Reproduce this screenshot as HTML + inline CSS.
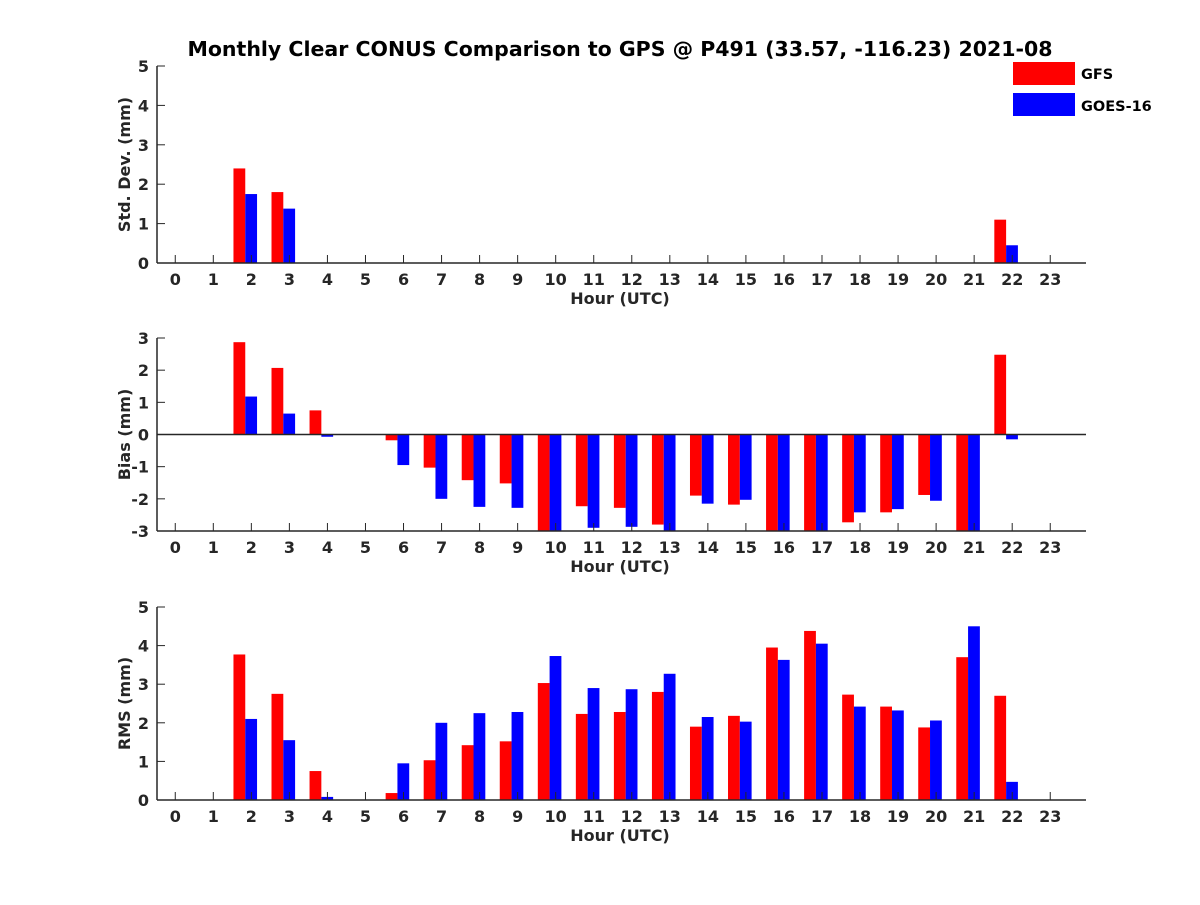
<!DOCTYPE html>
<html><head><meta charset="utf-8"><style>
body{margin:0;background:#fff}
svg text{font-family:"DejaVu Sans","Liberation Sans",sans-serif;font-weight:bold;fill:#262626}
</style></head><body>
<svg id="chart" width="1200" height="900" xmlns="http://www.w3.org/2000/svg">
<rect width="1200" height="900" fill="#fff"/>
<text x="620" y="56" font-size="20.5" text-anchor="middle" style="fill:#000">Monthly Clear CONUS Comparison to GPS @ P491 (33.57, -116.23) 2021-08</text>
<g>
<rect x="1013" y="62" width="62" height="23" fill="#ff0000"/>
<text x="1081" y="79" font-size="14.5" style="fill:#000">GFS</text>
<rect x="1013" y="93" width="62" height="23" fill="#0000ff"/>
<text x="1081" y="111" font-size="14.5" style="fill:#000">GOES-16</text>
</g>
</svg>
<script>
const hours=[0,1,2,3,4,5,6,7,8,9,10,11,12,13,14,15,16,17,18,19,20,21,22,23];
const stdGFS=[null,null,2.4,1.8,null,null,null,null,null,null,null,null,null,null,null,null,null,null,null,null,null,null,1.1,null];
const stdGOES=[null,null,1.75,1.38,null,null,null,null,null,null,null,null,null,null,null,null,null,null,null,null,null,null,0.45,null];
const biasGFS=[null,null,2.87,2.07,0.75,null,-0.18,-1.03,-1.42,-1.52,-3.05,-2.23,-2.28,-2.8,-1.9,-2.18,-3.95,-4.4,-2.73,-2.42,-1.88,-3.7,2.48,null];
const biasGOES=[null,null,1.18,0.65,-0.07,null,-0.95,-2.0,-2.25,-2.28,-3.73,-2.9,-2.87,-3.27,-2.15,-2.03,-3.63,-4.05,-2.42,-2.32,-2.06,-4.5,-0.15,null];
const rmsGFS=[null,null,3.77,2.75,0.75,null,0.18,1.03,1.42,1.52,3.03,2.23,2.28,2.8,1.9,2.18,3.95,4.38,2.73,2.42,1.88,3.7,2.7,null];
const rmsGOES=[null,null,2.1,1.55,0.08,null,0.95,2.0,2.25,2.28,3.73,2.9,2.87,3.27,2.15,2.03,3.63,4.05,2.42,2.32,2.06,4.5,0.47,null];
const stdTicks=[0,1,2,3,4,5];
const biasTicks=[-3,-2,-1,0,1,2,3];
const rmsTicks=[0,1,2,3,4,5];

const svg=document.getElementById('chart');
const NS='http://www.w3.org/2000/svg';
function mk(tag,attrs,parent){const e=document.createElementNS(NS,tag);for(const k in attrs)e.setAttribute(k,attrs[k]);(parent||svg).appendChild(e);return e;}
const X0=157,X1=1086,XMIN=-0.48,XMAX=23.94;
function xs(v){return X0+(v-XMIN)/(XMAX-XMIN)*(X1-X0);}
function panel(name,top,bottom,ymin,ymax,ticks,ylabel,red,blue,zeroLine){
  const g=mk('g',{});
  
  
  const ys=v=>bottom-(v-ymin)/(ymax-ymin)*(bottom-top);
  const clip=(v)=>Math.max(ymin,Math.min(ymax,v));
  const base=ys(clip(0));
  hours.forEach((h,i)=>{
    [[red[i],'#ff0000',-0.47,-0.16,'gfs'],[blue[i],'#0000ff',-0.16,0.15,'goes']].forEach(([v,c,a,b,s])=>{
      if(v===null||v===undefined)return;
      const yv=ys(clip(v));
      const r=mk('rect',{x:xs(h+a),y:Math.min(yv,base),width:xs(h+b)-xs(h+a),height:Math.abs(base-yv),fill:c},g);
      
      
    });
  });
  mk('line',{x1:X0,y1:top,x2:X0,y2:bottom,stroke:'#262626','stroke-width':1.5},g);
  mk('line',{x1:X0,y1:bottom,x2:X1,y2:bottom,stroke:'#262626','stroke-width':1.5},g);
  if(zeroLine)mk('line',{x1:X0,y1:ys(0),x2:X1,y2:ys(0),stroke:'#262626','stroke-width':1.5},g);
  ticks.forEach(t=>{
    const y=ys(t);
    mk('line',{x1:X0,y1:y,x2:X0+8,y2:y,stroke:'#262626','stroke-width':1},g);
    const tx=mk('text',{x:X0-8,y:y+6,'font-size':16,'text-anchor':'end'},g);
    tx.textContent=t;
    
    
  });
  hours.forEach(h=>{
    const x=xs(h);
    mk('line',{x1:x,y1:bottom,x2:x,y2:bottom-8,stroke:'#262626','stroke-width':1},g);
    const tx=mk('text',{x:x,y:bottom+22,'font-size':16,'text-anchor':'middle'},g);
    tx.textContent=h;
    
    
  });
  const xl=mk('text',{x:620,y:bottom+41,'font-size':16,'text-anchor':'middle'},g);
  xl.textContent='Hour (UTC)';
  
  
  const cy=(top+bottom)/2;
  const yl=mk('text',{x:130,y:cy,'font-size':16,'text-anchor':'middle',transform:'rotate(-90 130 '+cy+')'},g);
  yl.textContent=ylabel;
  
  
}
panel('std',66,263,0,5,stdTicks,'Std. Dev. (mm)',stdGFS,stdGOES,false);
panel('bias',338,531,-3,3,biasTicks,'Bias (mm)',biasGFS,biasGOES,true);
panel('rms',607,800,0,5,rmsTicks,'RMS (mm)',rmsGFS,rmsGOES,false);
</script>
</body></html>
